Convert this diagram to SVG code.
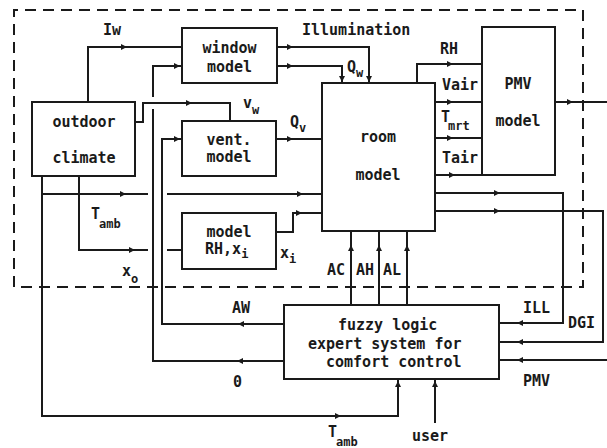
<svg xmlns="http://www.w3.org/2000/svg" width="607" height="448" viewBox="0 0 607 448">
<defs>
<marker id="ah" markerUnits="userSpaceOnUse" markerWidth="6" markerHeight="6" refX="6" refY="3" orient="auto">
<path d="M0,0 L6,3 L0,6 z" fill="#1a1a1a"/>
</marker>
<style>
.box{fill:#fff;stroke:#1a1a1a;stroke-width:2}
.ln{fill:none;stroke:#1a1a1a;stroke-width:2}
.bd{fill:none;stroke:#1a1a1a;stroke-width:2;stroke-dasharray:11 7}
.ar{fill:none;stroke:none;marker-end:url(#ah)}
text{font-family:"DejaVu Sans Mono","Liberation Mono",monospace;font-size:15px;font-weight:bold;fill:#1a1a1a}
.c{text-anchor:middle}
.s{font-size:12px}
</style>
</defs>
<rect width="607" height="448" fill="#fff"/>
<path class="bd" d="M14,287 V10 H583 V287 H14"/>

<g id="connectors">
<g class="ln">
<path d="M88,102 V47 H182"/>
<path d="M182,66 H153 V97 M153,109 V361 H284"/>
<path d="M135,122 H143 V103 H230 V121"/>
<path d="M182,139 H162 V324 H284"/>
<path d="M42,176 V416 H398 V379"/>
<path d="M42,194 H148 M167,194 H322"/>
<path d="M79,176 V250 H148 M167,250 H182"/>
<path d="M276,232 H293 V213 H322"/>
<path d="M276,139 H322"/>
<path d="M277,47 H369 V83"/>
<path d="M277,66 H342 V83"/>
<path d="M417,83 V64 H482"/>
<path d="M435,102 H482"/>
<path d="M435,138 H482"/>
<path d="M435,175 H482"/>
<path d="M555,102 H607"/>
<path d="M435,193 H563 V323 H499"/>
<path d="M435,211 H603 V342 H499"/>
<path d="M607,360 H499"/>
<path d="M351,231 V305 M379,231 V305 M407,231 V305"/>
<path d="M435,379 V423"/>
</g>
<g class="ar">
<path d="M121,47 H127"/>
<path d="M174,66 H180"/>
<path d="M186,103 H192"/>
<path d="M287,47 H293"/>
<path d="M287,66 H293"/>
<path d="M369,76 V82"/>
<path d="M342,76 V82"/>
<path d="M287,139 H293"/>
<path d="M174,139 H180"/>
<path d="M120,194 H126"/>
<path d="M297,194 H303"/>
<path d="M129,250 H135"/>
<path d="M296,213 H302"/>
<path d="M447,64 H453"/>
<path d="M447,102 H453"/>
<path d="M447,138 H453"/>
<path d="M449,175 H455"/>
<path d="M567,102 H573"/>
<path d="M494,193 H500"/>
<path d="M494,211 H500"/>
<path d="M523,323 H517"/>
<path d="M523,342 H517"/>
<path d="M523,360 H517"/>
<path d="M351,251 V245"/>
<path d="M379,251 V245"/>
<path d="M407,251 V245"/>
<path d="M244,324 H238"/>
<path d="M243,361 H237"/>
<path d="M335,416 H341"/>
<path d="M398,387 V381"/>
<path d="M435,387 V381"/>
</g>
</g>

<g id="window">
<rect class="box" x="182" y="28" width="95" height="55"/>
<text class="c" x="229.5" y="53">window</text>
<text class="c" x="229.5" y="72">model</text>
</g>
<g id="outdoor">
<rect class="box" x="32" y="102" width="103" height="74"/>
<text class="c" x="84" y="127">outdoor</text>
<text class="c" x="84" y="163">climate</text>
</g>
<g id="vent">
<rect class="box" x="182" y="121" width="94" height="55"/>
<text class="c" x="229" y="145">vent.</text>
<text class="c" x="229" y="162">model</text>
</g>
<g id="rhmodel">
<rect class="box" x="182" y="213" width="94" height="56"/>
<text class="c" x="229" y="237">model</text>
<text x="205" y="254">RH,x<tspan class="s" dy="4">i</tspan></text>
</g>
<g id="room">
<rect class="box" x="322" y="83" width="113" height="148"/>
<text class="c" x="378" y="142">room</text>
<text class="c" x="378" y="180">model</text>
</g>
<g id="pmv">
<rect class="box" x="482" y="27" width="73" height="148"/>
<text class="c" x="518" y="89">PMV</text>
<text class="c" x="518" y="126">model</text>
</g>
<g id="fuzzy">
<rect class="box" x="284" y="305" width="215" height="74"/>
<text x="338" y="330">fuzzy logic</text>
<text x="308" y="349">expert system for</text>
<text x="326" y="367">comfort control</text>
</g>

<g id="labels">
<text x="103" y="35">Iw</text>
<text x="302" y="35">Illumination</text>
<text x="243" y="108">v<tspan class="s" dy="6">w</tspan></text>
<text x="290" y="127">Q<tspan class="s" dy="5">v</tspan></text>
<text x="347" y="72">Q<tspan class="s" dy="5">w</tspan></text>
<text x="91" y="219">T<tspan class="s" dx="-1" dy="9">amb</tspan></text>
<text x="122" y="276">x<tspan class="s" dy="7">o</tspan></text>
<text x="280" y="258">x<tspan class="s" dy="5">i</tspan></text>
<text x="440" y="54">RH</text>
<text x="442" y="90">Vair</text>
<text x="441" y="122">T<tspan class="s" dx="-2" dy="8">mrt</tspan></text>
<text x="442" y="163">Tair</text>
<text x="327" y="275">AC</text>
<text x="356" y="275">AH</text>
<text x="383" y="275">AL</text>
<text x="232" y="313">AW</text>
<text x="233" y="387">0</text>
<text x="523" y="313">ILL</text>
<text x="568" y="328">DGI</text>
<text x="523" y="386">PMV</text>
<text x="328" y="437">T<tspan class="s" dx="-1" dy="9">amb</tspan></text>
<text x="412" y="441">user</text>
</g>
</svg>
